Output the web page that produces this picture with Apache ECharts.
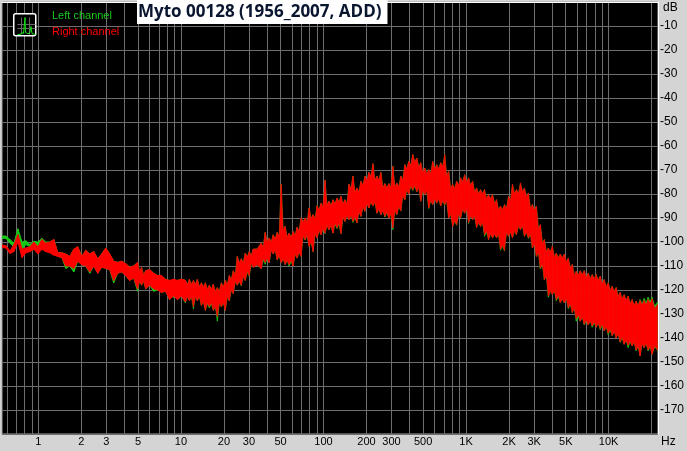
<!DOCTYPE html>
<html><head><meta charset="utf-8">
<style>html,body{margin:0;padding:0;background:#d4d4d4}#c{width:687px;height:451px}</style>
<script src="https://cdn.jsdelivr.net/npm/echarts@6/dist/echarts.min.js"></script>
</head><body><div id="c"></div>
<script>
const titleText = 'Myto 00128 (1956_2007, ADD)';
const gridFreqs = [0.6,0.7,0.8,0.9,1,2,3,4,5,6,7,8,9,10,20,30,40,50,60,70,80,90,100,200,300,400,500,600,700,800,900,1000,2000,3000,4000,5000,6000,7000,8000,9000,10000,20000];
const labelFreqs = [1,2,3,5,10,20,30,50,100,200,300,500,1000,2000,3000,5000,10000];
const freqs = [0.556,0.592,0.632,0.674,0.719,0.767,0.818,0.872,0.930,0.992,1.058,1.128,1.203,1.283,1.369,1.460,1.557,1.660,1.771,1.889,2.015,2.149,2.292,2.444,2.607,2.780,2.965,3.163,3.373,3.598,3.837,4.093,4.365,4.655,4.965,5.295,5.648,6.023,6.424,6.852,7.307,7.794,8.312,8.866,9.455,
10.08,10.75,11.47,12.23,13.04,13.91,14.84,15.82,16.88,18.00,19.20,20.47,21.84,23.29,24.84,26.49,28.25,30.13,32.14,34.28,36.56,38.99,41.58,44.35,47.30,50.45,53.81,57.39,61.20,65.28,69.62,74.25,79.19,84.46,90.08,96.07,
102.4,109.2,116.5,124.3,132.5,141.4,150.8,160.8,171.5,182.9,195.1,208.1,221.9,236.7,252.4,269.2,287.1,306.2,326.6,348.3,371.5,396.2,422.6,450.7,480.7,512.7,546.8,583.2,622.0,663.4,707.5,754.6,804.8,858.3,915.4,976.4,
1041,1111,1184,1263,1347,1437,1533,1635,1743,1859,1983,2115,2256,2406,2566,2737,2919,3113,3320,3541,3777,4028,4296,4582,4887,5212,5559,5929,6323,6744,7193,7671,8182,8726,9307,9926,10590,11290,12040,12840,13700,14610,15580,16620,17730,18910,20160,22000];
const rightHi = [-101.3,-101.5,-103.8,-101,-97,-103,-102.5,-102,-100,-102,-99,-100.5,-100,-99,-104.5,-104.5,-105,-106,-103,-102,-106,-103.5,-105,-104,-107,-105,-102.5,-105,-108,-108.5,-108,-109,-110.5,-110,-108.5,-110.5,-112,-111.5,-113,-114,-114,-115.5,-116,-115.5,-116,-115.5,-116,-115.5,-116,-115.5,-117,-117,-118,-117.5,-119,-117,-116,-114,-112,-106,
-107,-104.6,-104,-103,-103,-100.5,-96,-98.3,-97,-96,-76,-93.5,-96.3,-95.5,-93.8,-90,-90,-85.8,-88.6,-84.9,-83.8,-74.3,-83,-82.4,-81.7,-81,-82.4,-76,-72.6,-77.5,-74.7,-72.6,-71,-67.4,-72.6,-71,-75.7,-75.7,-68.5,-75.4,-72.6,-67.8,-66.4,-63.6,-65,-67,-69.2,-69.9,-66.4,-67.8,-67,-63.6,-70.6,-76,-74.7,-73.3,-72,-73.3,-74.7,-77.5,-78.2,-78.2,-80.3,-80.3,-82.4,-85,-84.4,-81,-76,-78.2,-75.4,-77.5,-79.6,-84.4,-85,-92.8,-99,-102.5,-101.8,-104.6,-105,-105,-106.7,-109.4,-112.2,-112,-112,-113,-113.6,-113.6,-114.3,-115.7,-117,-118.5,-119,-121,-122,-122.6,-124,-124.7,-124.4,-124.4,-124,-123.7,-126];
const rightLo = [-102.3,-102.5,-104.8,-104,-100,-106.5,-104.5,-104,-103,-105,-103,-104,-104.5,-105.5,-106,-106.5,-110,-110,-111,-108,-109.5,-110,-112.5,-110,-113,-110.5,-111,-111.5,-116,-113,-112.5,-114,-116,-115,-119.5,-118,-119.5,-118,-119.5,-120,-121,-120.5,-124,-122.5,-124,-122.5,-125,-124.5,-127,-124.5,-126.5,-128.5,-127,-128.5,-131,-127,-128.5,-124.5,-121.5,-118,
-118,-116,-114,-110.5,-109.5,-111,-108.5,-108.7,-105,-107.4,-108.7,-109.4,-109.4,-110,-106.7,-106,-99,-101.8,-104,-98.3,-97,-96.3,-94.9,-96.3,-94,-96.5,-91.4,-90.7,-91.4,-92,-89.3,-87.2,-85.8,-85,-88,-88.6,-89.3,-90,-94,-88.6,-87,-82.4,-80,-78.2,-79,-83,-80.3,-85.8,-84.4,-83.8,-85,-84.4,-90,-93.5,-92.8,-90,-88,-92,-90.7,-94,-93.5,-97,-99,-98.3,-98.3,-103,-103.5,-97.6,-98.3,-97,-94.9,-97.6,-98.3,-102.5,-106,-110.8,-115.7,-122.5,-122,-124,-125.3,-125.4,-127.4,-129.4,-132,-133,-134.3,-134.6,-135,-135.5,-136,-137,-138,-139,-140,-141.5,-142.6,-143,-143.3,-145,-147.5,-144,-145,-146.8,-145];
const leftHi = [-97.5,-97.5,-99,-100.5,-94.5,-100,-99.5,-101,-99.7,-100,-98.5,-100,-100,-99,-104.5,-104.5,-105,-106,-103,-102,-106,-103.5,-105,-104,-107,-105,-102.5,-105,-108,-108.5,-108,-109,-110.5,-110,-108.5,-110.5,-112,-111.5,-113,-114,-114,-115.5,-116,-115.5,-116,-115.5,-116,-115.5,-116,-115.5,-117,-117,-118,-117.5,-119,-117,-116,-114,-112,-106,
-107,-104.6,-104,-103,-103,-100.5,-96,-98.3,-97,-96,-76,-93.5,-96.3,-95.5,-93.8,-90,-90,-85.8,-88.6,-84.9,-83.8,-74.3,-83,-82.4,-81.7,-81,-82.4,-76,-72.6,-77.5,-74.7,-72.6,-71,-67.4,-72.6,-71,-75.7,-75.7,-68.5,-75.4,-72.6,-67.8,-66.4,-63.6,-65,-67,-69.2,-69.9,-66.4,-67.8,-67,-63.6,-70.6,-76,-74.7,-73.3,-72,-73.3,-74.7,-77.5,-78.2,-78.2,-80.3,-80.3,-82.4,-85,-84.4,-81,-76,-78.2,-75.4,-77.5,-79.6,-84.4,-85,-92.8,-99,-102.5,-101.8,-104.6,-105,-105,-106.7,-109.4,-112.2,-112,-112,-113,-113.6,-113.6,-114.3,-115.7,-117,-118.5,-119,-121,-122,-122.6,-124,-124.7,-124,-123.5,-123,-123,-125];
const leftLo = [-98.5,-98.5,-100.5,-102,-96,-103,-101,-102,-101,-103,-100,-102,-103,-104.5,-106,-106.5,-111,-110,-112.5,-108,-109.5,-110,-113,-110,-113,-110.5,-111,-111.5,-117,-113,-112.5,-114,-116,-115,-120.5,-118,-119.5,-118,-120.5,-120,-121,-120.5,-124,-123.3,-124,-122.5,-125.3,-124.5,-127.8,-124.5,-126.5,-128.5,-127.5,-128.5,-133,-127,-128.5,-124.5,-121.5,-118,
-118.2,-116,-114.3,-110.5,-109.5,-111,-109.3,-108.7,-105,-107.4,-108.7,-109.4,-110,-110,-106.7,-106,-99.2,-101.8,-104,-98.3,-97,-96.5,-94.9,-96.3,-94.4,-96.5,-91.4,-90.7,-91.8,-92,-89.3,-87.2,-85.8,-85,-88,-88.6,-89.6,-90,-94.8,-88.6,-87,-82.4,-80,-78.5,-79,-83,-80.3,-86,-84.4,-83.8,-85,-84.6,-90,-93.5,-93,-90,-88,-92.3,-90.7,-94,-93.5,-97.6,-99,-98.3,-98.3,-103.4,-103.8,-97.6,-98.3,-97,-94.9,-97.6,-98.5,-102.5,-106,-111.2,-115.7,-123,-122,-124.5,-125.3,-125.4,-127.8,-129.4,-133,-133,-134.6,-134.6,-135.5,-135.5,-136.5,-137,-138.6,-139,-140,-141.8,-142.6,-144,-143.3,-145.3,-147.5,-144,-145.4,-146.8,-145.3];

function band(name, color, hi, lo, z) {
  const data = freqs.map((f, i) => [f, hi[i], lo[i]]);
  return {
    type: 'custom', name, z, clip: true, silent: true,
    itemStyle: { color },
    encode: { x: 0, y: [1, 2] },
    data,
    renderItem(params, api) {
      const i = params.dataIndex;
      if (i >= data.length - 1) return null;
      const n = data[i + 1];
      const a = api.coord([data[i][0], data[i][1]]);
      const b = api.coord([n[0], n[1]]);
      const c = api.coord([n[0], n[2]]);
      const d = api.coord([data[i][0], data[i][2]]);
      const wide = (data[i][1] - data[i][2]) > 7 && (n[1] - n[2]) > 7;
      let pts = [a, b, c, d];
      if (wide) {
        const mx = (a[0] + b[0]) / 2;
        pts = [a, [mx, Math.max(a[1], b[1]) + 4], b, c, [mx, Math.min(c[1], d[1]) - 4], d];
      }
      return { type: 'polygon', shape: { points: pts }, style: { fill: color, stroke: color, lineWidth: wide ? 0.6 : 1 } };
    }
  };
}
const fontUI = '"Liberation Sans", Arial, sans-serif';
const chart = echarts.init(document.getElementById('c'), null, { renderer: 'canvas' });
chart.setOption({
  animation: false,
  backgroundColor: '#d4d4d4',
  title: {
    text: titleText, left: 137, top: 0,
    backgroundColor: '#ffffff', padding: [4, 6, 3, 1],
    textStyle: { fontFamily: '"Open Sans", sans-serif', fontWeight: 'bold', fontSize: 17, color: '#0a1530' }
  },
  legend: {
    left: 41, top: 5, orient: 'vertical', itemGap: 5, itemWidth: 1, itemHeight: 1, icon: 'none', selectedMode: false,
    textStyle: { fontFamily: fontUI, fontSize: 11 },
    data: [
      { name: 'Left channel', textStyle: { color: '#18c818' } },
      { name: 'Right channel', textStyle: { color: '#ff0000' } }
    ]
  },
  grid: { left: 2, right: 27, top: 2, bottom: 17, backgroundColor: '#000', borderColor: '#a8a8a8', borderWidth: 1, show: true },
  xAxis: {
    type: 'log', logBase: 10, min: 0.5555, max: 22180,
    axisLine: { show: true, lineStyle: { color: '#fff', width: 1 } },
    axisTick: { show: false, customValues: gridFreqs },
    minorTick: { show: false },
    splitLine: { show: true, lineStyle: { color: '#6e6e6e', width: 1 } },
    axisLabel: {
      show: true, customValues: labelFreqs, margin: 2, color: '#000', fontFamily: fontUI, fontSize: 11,
      hideOverlap: false, showMinLabel: true, showMaxLabel: true,
      formatter: v => v >= 1000 ? (v / 1000) + 'K' : String(v)
    }
  },
  yAxis: {
    type: 'value', min: -180, max: 0, interval: 10, position: 'right',
    axisLine: { show: true, lineStyle: { color: '#fff', width: 1 } },
    axisTick: { show: false },
    splitLine: { show: true, lineStyle: { color: '#6e6e6e', width: 1 } },
    axisLabel: {
      margin: 2, color: '#000', fontFamily: fontUI, fontSize: 12,
      formatter: v => (v === 0 || v === -180) ? '' : String(v)
    }
  },
  graphic: [
    { type: 'text', left: 663, top: 2, style: { text: 'dB', fill: '#000', font: '12px ' + fontUI } },
    { type: 'text', left: 661, top: 436, style: { text: 'Hz', fill: '#000', font: '12px ' + fontUI } },
    { type: 'rect', left: 13, top: 13, shape: { width: 22, height: 22, r: 2 }, style: { fill: '#000', stroke: '#fff', lineWidth: 1.5 }, z: 10 },
    { type: 'polyline', left: 15, top: 22, z: 11, shape: { points: [[0,0],[18,0]] }, style: { stroke: '#666', fill: null, lineWidth: 1 } },
    { type: 'polyline', left: 15, top: 26, z: 11, shape: { points: [[0,0],[18,0]] }, style: { stroke: '#666', fill: null, lineWidth: 1 } },
    { type: 'polyline', left: 19, top: 15, z: 11, shape: { points: [[0,0],[0,17]] }, style: { stroke: '#666', fill: null, lineWidth: 1 } },
    { type: 'polyline', left: 27, top: 15, z: 11, shape: { points: [[0,0],[0,17]] }, style: { stroke: '#666', fill: null, lineWidth: 1 } },
    { type: 'polyline', left: 15, top: 15, z: 12, shape: { points: [[0,17],[3,17],[4,15],[6,16],[7.5,0],[8,15],[10,16],[12,16],[13.5,9],[14.5,16],[18,17]] }, style: { stroke: '#18e018', fill: null, lineWidth: 1 } }
  ],
  series: [
    band('Left channel', '#18c818', leftHi, leftLo, 2),
    band('Right channel', '#ff0000', rightHi, rightLo, 3)
  ]
});
</script></body></html>
